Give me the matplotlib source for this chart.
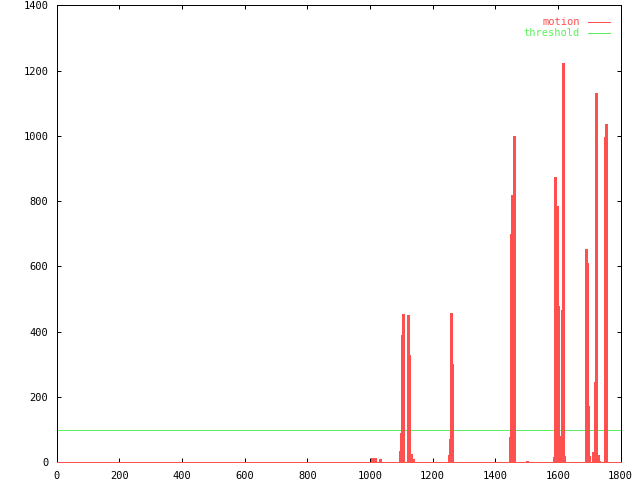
import matplotlib
matplotlib.use('Agg')
import matplotlib.pyplot as plt

# motion spikes (frame number, value); every other frame is 0
motion_frames = [1006, 1011, 1015, 1031,
                 1097, 1100, 1103, 1106, 1120, 1123, 1126, 1130, 1133, 1137,
                 1253, 1256, 1260, 1263,
                 1448, 1451, 1455, 1458, 1461, 1500,
                 1589, 1592, 1596, 1599, 1602, 1605, 1609, 1612, 1615, 1618,
                 1690, 1693, 1696, 1699,
                 1713, 1717, 1720, 1723, 1727, 1730,
                 1749, 1752, 1755]
motion_values = [12, 10, 12, 9,
                 35, 89, 389, 453, 139, 450, 328, 24, 9, 10,
                 22, 71, 457, 301,
                 78, 699, 818, 525, 1000, 5,
                 15, 875, 786, 478, 53, 22, 80, 466, 1224, 19,
                 653, 611, 172, 19,
                 30, 66, 247, 1132, 22, 5,
                 998, 959, 1036]
threshold = 100

x_ticks = list(range(0, 1801, 200))
y_ticks = list(range(0, 1401, 200))

RED = '#ff5050'
GREEN = '#5cf05c'
PX = 0.72  # one pixel in points at dpi 100

plt.rcParams['font.family'] = ['DejaVu Sans Mono']
plt.rcParams['font.size'] = 7.5

fig = plt.figure(figsize=(6.4, 4.8), dpi=100, facecolor='white')
ax = fig.add_axes([0.0886, 0.0369, 0.881, 0.952])

# impulses
ax.vlines(motion_frames, 0, motion_values, colors=RED, linewidth=PX * 1.1,
          antialiased=False, zorder=3)
ax.axhline(0, color=RED, linewidth=PX, antialiased=False, clip_on=False, zorder=4)
ax.axhline(threshold, color=GREEN, linewidth=PX, antialiased=False, zorder=2)

ax.set_xlim(0, 1800)
ax.set_ylim(0, 1400)
ax.set_xticks(x_ticks)
ax.set_yticks(y_ticks)
ax.tick_params(direction='in', length=3.2, width=PX, top=True, right=True,
               colors='black', pad=6)
for s in ax.spines.values():
    s.set_linewidth(PX)
    s.set_color('black')

# legend, gnuplot style: right-aligned text then line sample
ax.text(0.928, 0.964, 'motion', color=RED, ha='right', va='center',
        transform=ax.transAxes)
ax.plot([0.942, 0.981], [0.964, 0.964], color=RED, linewidth=PX,
        transform=ax.transAxes, antialiased=False)
ax.text(0.928, 0.940, 'threshold', color=GREEN, ha='right', va='center',
        transform=ax.transAxes)
ax.plot([0.942, 0.981], [0.940, 0.940], color=GREEN, linewidth=PX,
        transform=ax.transAxes, antialiased=False)

fig.savefig('out.png', dpi=100)
